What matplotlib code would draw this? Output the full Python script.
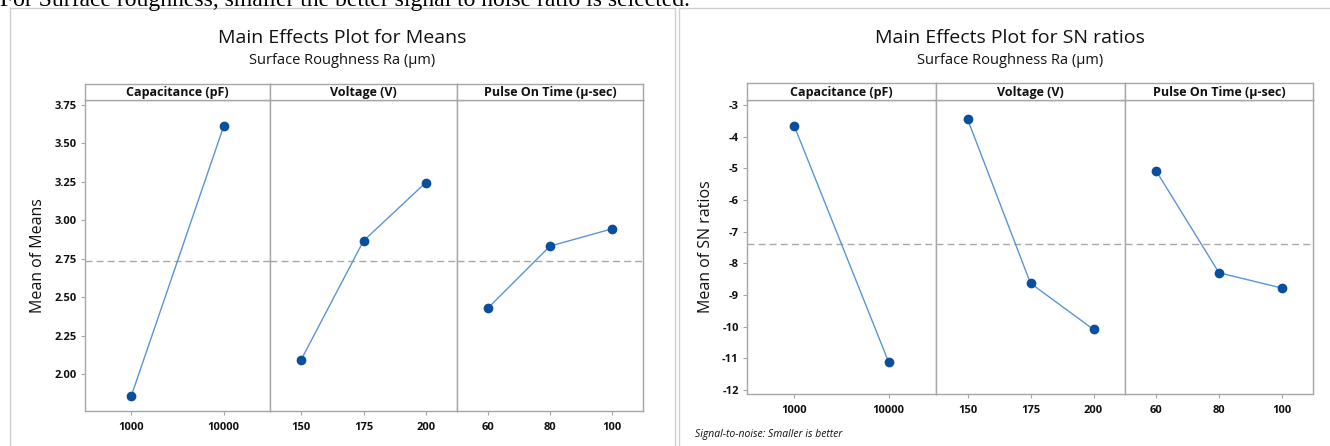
import matplotlib
matplotlib.use('Agg')
import matplotlib.pyplot as plt
from matplotlib.lines import Line2D

# --- Daten ---
factors = ['Capacitance (pF)', 'Voltage (V)', 'Pulse On Time (µ-sec)']
levels = [['1000', '10000'], ['150', '175', '200'], ['60', '80', '100']]

means_vals = [[1.857, 3.611], [2.093, 2.865, 3.244], [2.429, 2.831, 2.943]]
means_grand = 2.734
means_ticks = [2.00, 2.25, 2.50, 2.75, 3.00, 3.25, 3.50, 3.75]

sn_vals = [[-3.66, -11.13], [-3.44, -8.63, -10.09], [-5.09, -8.30, -8.78]]
sn_grand = -7.39
sn_ticks = [-3, -4, -5, -6, -7, -8, -9, -10, -11, -12]

W, H = 1330, 446
plt.rcParams['font.family'] = ['Open Sans', 'DejaVu Sans']

fig = plt.figure(figsize=(W / 100, H / 100), dpi=100)
fig.patch.set_facecolor('white')

GRAY = '#a6a6a6'
LINE = '#5a95d4'
MARK = '#0a4f9e'
TXT = '#111111'


def box(x0, y0, x1, y1):
    return [x0 / W, 1 - y1 / H, (x1 - x0) / W, (y1 - y0) / H]


def fline(xs, ys, color='#cfcfcf', lw=1.0):
    fig.add_artist(Line2D([x / W for x in xs], [1 - y / H for y in ys],
                          transform=fig.transFigure, color=color, lw=lw))


def main_effects(xedges, ytop, ybot, strip_top, vals, grand, ticks, ylim, fmt, ylabel, ylab_x):
    axes = []
    for i, (x0, x1) in enumerate(zip(xedges[:-1], xedges[1:])):
        ax = fig.add_axes(box(x0, ytop, x1, ybot))
        n = len(vals[i])
        ax.plot(range(n), vals[i], color=LINE, lw=1.0, zorder=2)
        ax.plot(range(n), vals[i], 'o', color=MARK, ms=6, zorder=3)
        ax.axhline(grand, color='#a8a8a8', lw=1.0, ls=(0, (5, 3)), zorder=1)
        ax.set_xlim(-0.5, n - 0.5)
        ax.set_ylim(*ylim)
        ax.set_xticks(range(n))
        ax.set_xticklabels(levels[i], fontsize=8, color=TXT, fontweight='bold')
        ax.tick_params(axis='x', length=3, color=GRAY, pad=5)
        for s in ax.spines.values():
            s.set_color(GRAY)
            s.set_linewidth(1.0)
        if i == 0:
            ax.set_yticks(ticks)
            ax.set_yticklabels([fmt(t) for t in ticks], fontsize=8, color=TXT, fontweight='bold')
            ax.tick_params(axis='y', length=3, color=GRAY, pad=3)
        else:
            ax.set_yticks([])
        # Kopfleiste
        sx = fig.add_axes(box(x0, strip_top, x1, ytop))
        sx.set_xticks([])
        sx.set_yticks([])
        for s in sx.spines.values():
            s.set_color(GRAY)
            s.set_linewidth(1.0)
        sx.text(0.5, 0.45, factors[i], ha='center', va='center', fontsize=9,
                fontweight='bold', color=TXT, transform=sx.transAxes)
        axes.append(ax)
    fig.text(ylab_x / W, 1 - (ytop + ybot) / 2 / H, ylabel, rotation=90,
             ha='center', va='center', fontsize=11.5, color=TXT)
    return axes


# --- Linkes Diagramm: Means ---
main_effects([85, 270, 457, 643], 100, 411, 84, means_vals, means_grand, means_ticks,
             (1.76, 3.78), lambda t: f'{t:.2f}', 'Mean of Means', 38)
fig.text(342 / W, 1 - 38 / H, 'Main Effects Plot for Means', ha='center', va='center',
         fontsize=14, color=TXT)
fig.text(342 / W, 1 - 60 / H, 'Surface Roughness Ra (µm)', ha='center', va='center',
         fontsize=10.5, color=TXT)

# --- Rechtes Diagramm: SN ratios ---
main_effects([747, 936, 1125, 1313], 100, 394, 83, sn_vals, sn_grand, sn_ticks,
             (-12.13, -2.84), lambda t: f'{t:d}', 'Mean of SN ratios', 706)
fig.text(1010 / W, 1 - 38 / H, 'Main Effects Plot for SN ratios', ha='center', va='center',
         fontsize=14, color=TXT)
fig.text(1010 / W, 1 - 60 / H, 'Surface Roughness Ra (µm)', ha='center', va='center',
         fontsize=10.5, color=TXT)
fig.text(695 / W, 1 - 435 / H, 'Signal-to-noise: Smaller is better', ha='left', va='center',
         fontsize=7.5, style='italic', color=TXT)

# --- Rahmen ---
fline([10, 10], [8, 446])
fline([10, 675], [8, 8])
fline([675, 675], [8, 446])
fline([679, 679], [8, 446])
fline([679, 1330], [8, 8])

# abgeschnittene Textzeile oben (im Original ebenfalls angeschnitten)
fig.text(0, 1 - 6 / H, 'For Surface roughness, smaller the better signal to noise ratio is selected.',
         ha='left', va='baseline', fontsize=17, family='Liberation Serif', color='black')

fig.savefig('out.png', dpi=100, facecolor='white')
